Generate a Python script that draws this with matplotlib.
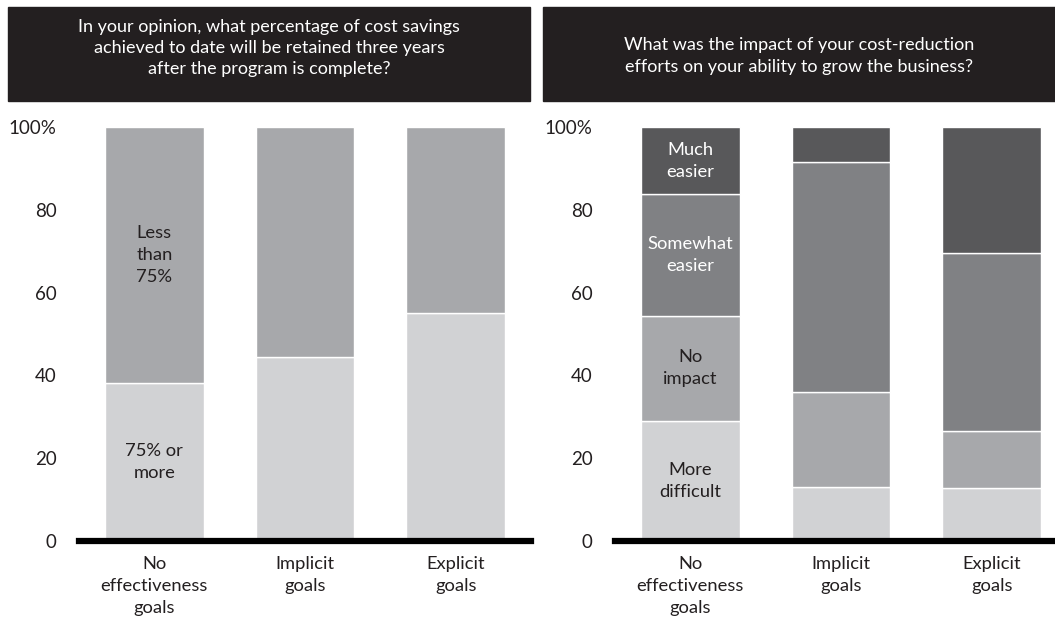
import numpy as np
import matplotlib
matplotlib.use("Agg")
import matplotlib.pyplot as plt
from matplotlib.patches import Rectangle

plt.rcParams['font.family'] = ['Lato', 'DejaVu Sans']

groups = ['No\neffectiveness\ngoals', 'Implicit\ngoals', 'Explicit\ngoals']
yticks = [0, 20, 40, 60, 80, 100]
ytick_labels = ['0', '20', '40', '60', '80', '100%']

# left panel: share of savings retained
retained_labels = ['75% or\nmore', 'Less\nthan\n75%']
retained_high = [38.1, 44.5, 55.0]
retained_low = [61.9, 55.5, 45.0]

# right panel: effect on growth
growth_labels = ['More\ndifficult', 'No\nimpact', 'Somewhat\neasier', 'Much\neasier']
more_difficult = [29.0, 13.1, 12.9]
no_impact = [25.4, 23.0, 13.7]
somewhat_easier = [29.3, 55.5, 43.0]
much_easier = [16.3, 8.4, 30.4]

title_left = ('In your opinion, what percentage of cost savings\n'
              'achieved to date will be retained three years\n'
              'after the program is complete?')
title_right = ('What was the impact of your cost-reduction\n'
               'efforts on your ability to grow the business?')

dark = '#231f20'
W, H = 1055, 623


def px_axes(fig, x0, x1, ytop, ybot):
    return fig.add_axes([x0 / W, 1 - ybot / H, (x1 - x0) / W, (ybot - ytop) / H])


def stacked(ax, series, colors, labels, label_colors):
    x = np.arange(len(groups))
    bottom = np.zeros(len(groups))
    for vals, col, lab, lc in zip(series, colors, labels, label_colors):
        vals = np.array(vals)
        ax.bar(x, vals, bottom=bottom, width=0.657, color=col,
               edgecolor='white', linewidth=1.0, zorder=2)
        # label sits in the first bar only
        ax.text(x[0], bottom[0] + vals[0] / 2, lab, ha='center', va='center',
                fontsize=13.2, color=lc, linespacing=1.45, zorder=3)
        bottom += vals
    ax.set_xlim(-0.5, 2.5)
    ax.set_ylim(0, 100)
    ax.set_yticks(yticks)
    ax.set_yticklabels(ytick_labels)
    ax.set_xticks(x)
    ax.set_xticklabels(groups, linespacing=1.45)
    ax.tick_params(axis='y', length=0, pad=16, labelsize=13.5, colors=dark)
    ax.tick_params(axis='x', length=0, pad=11, labelsize=13.2, colors=dark)
    for s in ['top', 'right', 'left']:
        ax.spines[s].set_visible(False)
    ax.spines['bottom'].set_linewidth(4.5)
    ax.spines['bottom'].set_color('black')
    ax.spines['bottom'].set_zorder(4)
    ax.set_facecolor('none')


fig = plt.figure(figsize=(10.55, 6.23), dpi=100)

# dark header boxes
for x0, x1, txt, ty in [(8, 530, title_left, 48), (543, 1055, title_right, 56)]:
    fig.patches.append(Rectangle((x0 / W, 1 - 101 / H), (x1 - x0) / W, 94 / H,
                                 transform=fig.transFigure, color=dark, zorder=0))
    fig.text((x0 + x1) / 2 / W, 1 - ty / H, txt, ha='center', va='center',
             color='white', fontsize=13, linespacing=1.4)

ax1 = px_axes(fig, 79, 531, 127, 541)
stacked(ax1, [retained_high, retained_low], ['#d1d2d4', '#a7a8ab'],
        retained_labels, [dark, dark])

ax2 = px_axes(fig, 615, 1067, 127, 541)
stacked(ax2, [more_difficult, no_impact, somewhat_easier, much_easier],
        ['#d1d2d4', '#a7a8ab', '#808184', '#58585a'],
        growth_labels, [dark, dark, 'white', 'white'])

fig.savefig('out.png', dpi=100)
